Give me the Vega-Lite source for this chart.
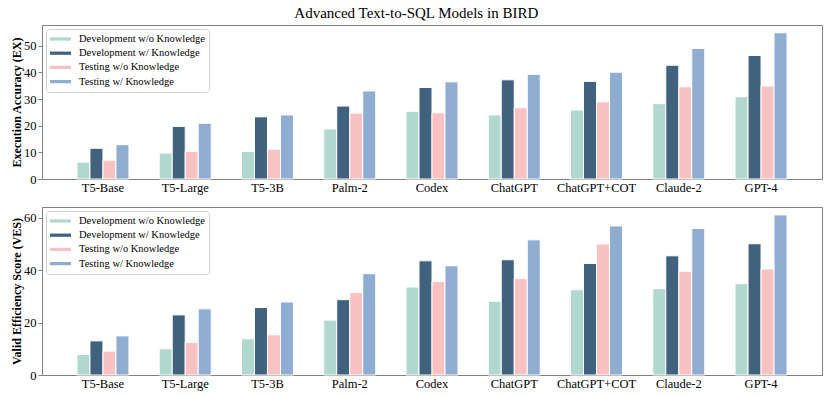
{
  "$schema": "https://vega.github.io/schema/vega-lite/v6.json",
  "background": "white",
  "padding": {"left": 9, "top": 5, "right": 8, "bottom": 2},
  "title": {"text": "Advanced Text-to-SQL Models in BIRD", "font": "Liberation Serif", "fontSize": 15, "fontWeight": "normal", "color": "black", "anchor": "middle", "offset": 4},
  "config": {
    "view": {"stroke": "#808080", "strokeWidth": 1},
    "axis": {"labelFont": "Liberation Serif", "labelFontSize": 12.5, "labelColor": "black", "titleFont": "Liberation Serif", "titleFontSize": 12, "titleFontWeight": "bold", "titleColor": "black", "domainColor": "#808080", "tickColor": "#808080", "grid": false},
    "legend": {"labelFont": "Liberation Serif", "labelFontSize": 10.5, "labelColor": "black"}
  },
  "data": {"values": [
    {"model": "T5-Base", "metric": "EX", "series": "Development w/o Knowledge", "value": 6.32},
    {"model": "T5-Base", "metric": "EX", "series": "Development w/ Knowledge", "value": 11.54},
    {"model": "T5-Base", "metric": "EX", "series": "Testing w/o Knowledge", "value": 7.06},
    {"model": "T5-Base", "metric": "EX", "series": "Testing w/ Knowledge", "value": 12.89},
    {"model": "T5-Large", "metric": "EX", "series": "Development w/o Knowledge", "value": 9.71},
    {"model": "T5-Large", "metric": "EX", "series": "Development w/ Knowledge", "value": 19.75},
    {"model": "T5-Large", "metric": "EX", "series": "Testing w/o Knowledge", "value": 10.38},
    {"model": "T5-Large", "metric": "EX", "series": "Testing w/ Knowledge", "value": 20.94},
    {"model": "T5-3B", "metric": "EX", "series": "Development w/o Knowledge", "value": 10.37},
    {"model": "T5-3B", "metric": "EX", "series": "Development w/ Knowledge", "value": 23.34},
    {"model": "T5-3B", "metric": "EX", "series": "Testing w/o Knowledge", "value": 11.17},
    {"model": "T5-3B", "metric": "EX", "series": "Testing w/ Knowledge", "value": 24.05},
    {"model": "Palm-2", "metric": "EX", "series": "Development w/o Knowledge", "value": 18.77},
    {"model": "Palm-2", "metric": "EX", "series": "Development w/ Knowledge", "value": 27.38},
    {"model": "Palm-2", "metric": "EX", "series": "Testing w/o Knowledge", "value": 24.71},
    {"model": "Palm-2", "metric": "EX", "series": "Testing w/ Knowledge", "value": 33.04},
    {"model": "Codex", "metric": "EX", "series": "Development w/o Knowledge", "value": 25.42},
    {"model": "Codex", "metric": "EX", "series": "Development w/ Knowledge", "value": 34.35},
    {"model": "Codex", "metric": "EX", "series": "Testing w/o Knowledge", "value": 24.86},
    {"model": "Codex", "metric": "EX", "series": "Testing w/ Knowledge", "value": 36.47},
    {"model": "ChatGPT", "metric": "EX", "series": "Development w/o Knowledge", "value": 24.05},
    {"model": "ChatGPT", "metric": "EX", "series": "Development w/ Knowledge", "value": 37.22},
    {"model": "ChatGPT", "metric": "EX", "series": "Testing w/o Knowledge", "value": 26.77},
    {"model": "ChatGPT", "metric": "EX", "series": "Testing w/ Knowledge", "value": 39.3},
    {"model": "ChatGPT+COT", "metric": "EX", "series": "Development w/o Knowledge", "value": 25.88},
    {"model": "ChatGPT+COT", "metric": "EX", "series": "Development w/ Knowledge", "value": 36.64},
    {"model": "ChatGPT+COT", "metric": "EX", "series": "Testing w/o Knowledge", "value": 28.95},
    {"model": "ChatGPT+COT", "metric": "EX", "series": "Testing w/ Knowledge", "value": 40.08},
    {"model": "Claude-2", "metric": "EX", "series": "Development w/o Knowledge", "value": 28.29},
    {"model": "Claude-2", "metric": "EX", "series": "Development w/ Knowledge", "value": 42.7},
    {"model": "Claude-2", "metric": "EX", "series": "Testing w/o Knowledge", "value": 34.6},
    {"model": "Claude-2", "metric": "EX", "series": "Testing w/ Knowledge", "value": 49.02},
    {"model": "GPT-4", "metric": "EX", "series": "Development w/o Knowledge", "value": 30.9},
    {"model": "GPT-4", "metric": "EX", "series": "Development w/ Knowledge", "value": 46.35},
    {"model": "GPT-4", "metric": "EX", "series": "Testing w/o Knowledge", "value": 34.88},
    {"model": "GPT-4", "metric": "EX", "series": "Testing w/ Knowledge", "value": 54.89},
    {"model": "T5-Base", "metric": "VES", "series": "Development w/o Knowledge", "value": 7.85},
    {"model": "T5-Base", "metric": "VES", "series": "Development w/ Knowledge", "value": 13.0},
    {"model": "T5-Base", "metric": "VES", "series": "Testing w/o Knowledge", "value": 9.1},
    {"model": "T5-Base", "metric": "VES", "series": "Testing w/ Knowledge", "value": 14.9},
    {"model": "T5-Large", "metric": "VES", "series": "Development w/o Knowledge", "value": 10.0},
    {"model": "T5-Large", "metric": "VES", "series": "Development w/ Knowledge", "value": 22.9},
    {"model": "T5-Large", "metric": "VES", "series": "Testing w/o Knowledge", "value": 12.4},
    {"model": "T5-Large", "metric": "VES", "series": "Testing w/ Knowledge", "value": 25.2},
    {"model": "T5-3B", "metric": "VES", "series": "Development w/o Knowledge", "value": 13.8},
    {"model": "T5-3B", "metric": "VES", "series": "Development w/ Knowledge", "value": 25.7},
    {"model": "T5-3B", "metric": "VES", "series": "Testing w/o Knowledge", "value": 15.3},
    {"model": "T5-3B", "metric": "VES", "series": "Testing w/ Knowledge", "value": 27.8},
    {"model": "Palm-2", "metric": "VES", "series": "Development w/o Knowledge", "value": 20.9},
    {"model": "Palm-2", "metric": "VES", "series": "Development w/ Knowledge", "value": 28.7},
    {"model": "Palm-2", "metric": "VES", "series": "Testing w/o Knowledge", "value": 31.4},
    {"model": "Palm-2", "metric": "VES", "series": "Testing w/ Knowledge", "value": 38.6},
    {"model": "Codex", "metric": "VES", "series": "Development w/o Knowledge", "value": 33.5},
    {"model": "Codex", "metric": "VES", "series": "Development w/ Knowledge", "value": 43.5},
    {"model": "Codex", "metric": "VES", "series": "Testing w/o Knowledge", "value": 35.6},
    {"model": "Codex", "metric": "VES", "series": "Testing w/ Knowledge", "value": 41.6},
    {"model": "ChatGPT", "metric": "VES", "series": "Development w/o Knowledge", "value": 28.1},
    {"model": "ChatGPT", "metric": "VES", "series": "Development w/ Knowledge", "value": 43.9},
    {"model": "ChatGPT", "metric": "VES", "series": "Testing w/o Knowledge", "value": 36.7},
    {"model": "ChatGPT", "metric": "VES", "series": "Testing w/ Knowledge", "value": 51.5},
    {"model": "ChatGPT+COT", "metric": "VES", "series": "Development w/o Knowledge", "value": 32.5},
    {"model": "ChatGPT+COT", "metric": "VES", "series": "Development w/ Knowledge", "value": 42.5},
    {"model": "ChatGPT+COT", "metric": "VES", "series": "Testing w/o Knowledge", "value": 49.9},
    {"model": "ChatGPT+COT", "metric": "VES", "series": "Testing w/ Knowledge", "value": 56.8},
    {"model": "Claude-2", "metric": "VES", "series": "Development w/o Knowledge", "value": 32.9},
    {"model": "Claude-2", "metric": "VES", "series": "Development w/ Knowledge", "value": 45.4},
    {"model": "Claude-2", "metric": "VES", "series": "Testing w/o Knowledge", "value": 39.5},
    {"model": "Claude-2", "metric": "VES", "series": "Testing w/ Knowledge", "value": 55.8},
    {"model": "GPT-4", "metric": "VES", "series": "Development w/o Knowledge", "value": 34.8},
    {"model": "GPT-4", "metric": "VES", "series": "Development w/ Knowledge", "value": 50.0},
    {"model": "GPT-4", "metric": "VES", "series": "Testing w/o Knowledge", "value": 40.4},
    {"model": "GPT-4", "metric": "VES", "series": "Testing w/ Knowledge", "value": 61.0}
  ]},
  "spacing": 12,
  "resolve": {"legend": {"color": "independent"}, "scale": {"y": "independent"}},
  "vconcat": [
    {
      "width": 780,
      "height": 154,
      "transform": [{"filter": "datum.metric === 'EX'"}],
      "mark": {"type": "bar", "stroke": "white", "strokeWidth": 1},
      "encoding": {
        "x": {"field": "model", "type": "nominal", "sort": null, "title": null,
              "scale": {"paddingInner": 0.368, "paddingOuter": 0.425},
              "axis": {"labelAngle": 0, "ticks": false, "labelPadding": 2, "domain": false}},
        "xOffset": {"field": "series", "type": "nominal", "sort": null},
        "y": {"field": "value", "type": "quantitative", "title": "Execution Accuracy (EX)",
              "scale": {"domain": [0, 57.8], "nice": false},
              "axis": {"values": [0, 10, 20, 30, 40, 50], "tickSize": 4, "labelPadding": 2, "titlePadding": 0, "domain": false}},
        "color": {"field": "series", "type": "nominal", "sort": null,
                  "scale": {"domain": ["Development w/o Knowledge", "Development w/ Knowledge", "Testing w/o Knowledge", "Testing w/ Knowledge"],
                            "range": ["#b1d8cf", "#41627e", "#f8c1c2", "#8fadd0"]},
                  "legend": {"title": null, "orient": "top-left", "offset": 4, "padding": 4, "rowPadding": 2.2,
                             "symbolType": "M-1,-0.27H2.5V0.27H-1Z", "symbolSize": 144, "symbolStrokeWidth": 0, "labelOffset": 17,
                             "strokeColor": "#d0d0d0", "fillColor": "white", "cornerRadius": 3}}
      }
    },
    {
      "width": 780,
      "height": 168,
      "transform": [{"filter": "datum.metric === 'VES'"}],
      "mark": {"type": "bar", "stroke": "white", "strokeWidth": 1},
      "encoding": {
        "x": {"field": "model", "type": "nominal", "sort": null, "title": null,
              "scale": {"paddingInner": 0.368, "paddingOuter": 0.425},
              "axis": {"labelAngle": 0, "ticks": false, "labelPadding": 2, "domain": false}},
        "xOffset": {"field": "series", "type": "nominal", "sort": null},
        "y": {"field": "value", "type": "quantitative", "title": "Valid Efficiency Score (VES)",
              "scale": {"domain": [0, 64], "nice": false},
              "axis": {"values": [0, 20, 40, 60], "tickSize": 4, "labelPadding": 2, "titlePadding": 0, "domain": false}},
        "color": {"field": "series", "type": "nominal", "sort": null,
                  "scale": {"domain": ["Development w/o Knowledge", "Development w/ Knowledge", "Testing w/o Knowledge", "Testing w/ Knowledge"],
                            "range": ["#b1d8cf", "#41627e", "#f8c1c2", "#8fadd0"]},
                  "legend": {"title": null, "orient": "top-left", "offset": 4, "padding": 4, "rowPadding": 2.2,
                             "symbolType": "M-1,-0.27H2.5V0.27H-1Z", "symbolSize": 144, "symbolStrokeWidth": 0, "labelOffset": 17,
                             "strokeColor": "#d0d0d0", "fillColor": "white", "cornerRadius": 3}}
      }
    }
  ]
}
